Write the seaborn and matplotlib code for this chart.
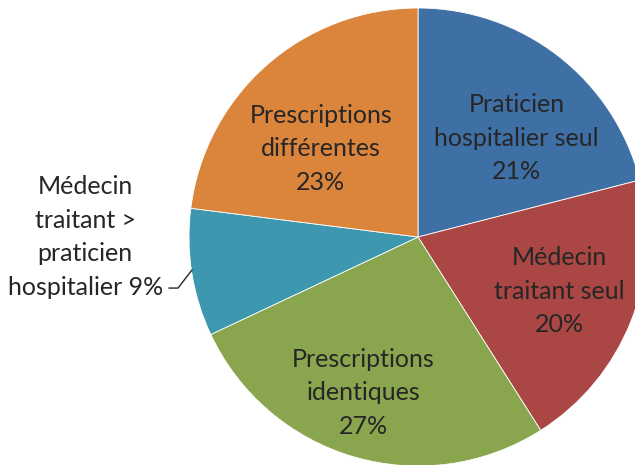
import matplotlib
matplotlib.use("Agg")
import matplotlib.pyplot as plt
import seaborn as sns

sns.set_theme(style="white")
plt.rcParams["font.family"] = ["Lato", "DejaVu Sans"]

# Répartition des prescriptions
categories = [
    "Praticien\nhospitalier seul",
    "Médecin\ntraitant seul",
    "Prescriptions\nidentiques",
    "Médecin\ntraitant >\npraticien\nhospitalier",
    "Prescriptions\ndifférentes",
]
values = [21, 20, 27, 9, 23]
colors = ["#3E6FA5", "#AA4644", "#89A64E", "#3D97AF", "#DB843C"]

# label anchor points in pie units (radius = 1)
label_pos = [(0.43, 0.432), (0.617, -0.237), (-0.24, -0.68), (-1.453, 0.0), (-0.425, 0.385)]

fig = plt.figure(figsize=(6.35, 4.65), dpi=100)
R = 229
cx, cy = 418, 237
W, H = 635, 465
ax = fig.add_axes([(cx - R) / W, (H - cy - R) / H, 2 * R / W, 2 * R / H])

wedges, _ = ax.pie(
    values,
    colors=colors,
    startangle=90,
    counterclock=False,
    radius=1,
    wedgeprops=dict(edgecolor="white", linewidth=0.6),
)
ax.set_xlim(-1, 1)
ax.set_ylim(-1, 1)
ax.set_aspect("equal")
ax.axis("off")
for w in wedges:
    w.set_clip_on(False)

for cat, val, (x, y) in zip(categories, values, label_pos):
    if val == 9:
        head, last = cat.rsplit("\n", 1)
        text = f"{head}\n{last} {val}%"
    else:
        text = f"{cat}\n{val}%"
    ax.text(x, y, text, ha="center", va="center", fontsize=18,
            color="#262626", linespacing=1.55, clip_on=False)

# leader line for the small slice
ax.plot([-1.088, -1.048, -0.987], [-0.223, -0.223, -0.144],
        color="#262626", lw=1.0, clip_on=False)

fig.savefig("out.png", dpi=100)
